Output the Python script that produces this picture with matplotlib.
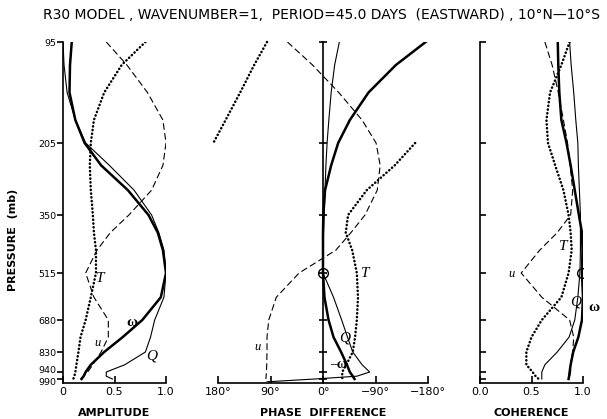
import numpy as np
import matplotlib
matplotlib.use("Agg")
import matplotlib.pyplot as plt
from matplotlib.transforms import ScaledTranslation

# Pressure levels (mb) where each profile is given
levels = [95, 120, 150, 180, 205, 250, 300, 350, 400, 450, 515,
          600, 680, 760, 830, 900, 940, 970, 990]
tick_levels = [95, 205, 350, 515, 680, 830, 940, 990]

# Vertical spacing of the model levels (distance below the top level)
scale_p = [95, 205, 350, 515, 680, 830, 940, 990, 1000]
scale_z = [0, 101, 173, 231, 278, 310, 330, 337, 341]

# Amplitude (normalised)
amp_omega = [0.085, 0.068, 0.063, 0.12, 0.21, 0.37, 0.63, 0.83, 0.92, 0.97, 1.0,
             0.95, 0.77, 0.58, 0.40, 0.27, 0.22, 0.20, 0.18]
amp_q = [0.0, 0.01, 0.04, 0.12, 0.22, 0.45, 0.69, 0.86, 0.93, 0.98, 1.0,
         0.98, 0.89, 0.85, 0.80, 0.60, 0.42, 0.42, 0.48]
amp_t = [0.80, 0.57, 0.40, 0.30, 0.27, 0.26, 0.27, 0.29, 0.30, 0.32, 0.32,
         0.27, 0.22, 0.17, 0.15, 0.13, 0.12, 0.11, 0.10]
amp_u = [0.42, 0.62, 0.82, 0.97, 1.0, 0.97, 0.86, 0.64, 0.46, 0.33, 0.22,
         0.30, 0.44, 0.44, 0.37, 0.29, 0.24, 0.20, 0.17]

# Phase difference (degrees)
ph_omega = [-176, -125, -78, -46, -26, -14, -3.5, -0.5, 0, 0, 0,
            -2.5, -9.5, -18, -31, -41, -46, -51, -54]
q_phase_levels = levels + [997]
ph_q = [-28, -20, -14, -10, -7, -5, -3.4, -2, -1, 0, 0,
        -18, -32, -42, -51, -67, -80, -58, 14, 96]
ph_u = [61, 18, -27, -67, -91, -98, -93, -72, -48, -22, 41,
        80, 93, 96, 96, 96.5, 97, 97.5, 98]
t_upper_levels = [95, 120, 150, 180, 205]
ph_t_upper = [96, 118, 142, 167, 188]
t_lower_levels = levels[4:]
ph_t_lower = [-158, -123, -75, -43, -39, -50, -58, -60, -58, -55, -51, -40, -33, -33, -33]

# Coherence
coh_omega = [0.755, 0.76, 0.77, 0.79, 0.84, 0.88, 0.92, 0.96, 0.99, 0.995, 0.99,
             1.0, 0.99, 0.955, 0.905, 0.88, 0.87, 0.865, 0.86]
coh_q = [0.87, 0.885, 0.91, 0.93, 0.95, 0.955, 0.965, 0.975, 0.975, 0.975, 0.97,
         0.95, 0.92, 0.865, 0.75, 0.63, 0.60, 0.60, 0.60]
coh_t = [0.87, 0.79, 0.68, 0.645, 0.66, 0.73, 0.81, 0.86, 0.88, 0.89, 0.86,
         0.79, 0.60, 0.50, 0.45, 0.45, 0.51, 0.54, 0.57]
coh_u = [0.63, 0.70, 0.76, 0.81, 0.85, 0.875, 0.90, 0.88, 0.75, 0.58, 0.40,
         0.60, 0.87, 0.91, 0.90, 0.88, 0.88, 0.87, 0.87]

ref_level = 515
ref_coherence = 0.99

heavy = dict(color="k", lw=1.8)
thin = dict(color="k", lw=0.8)
dashed = dict(color="k", lw=0.8, ls=(0, (6, 3)))
dotted = dict(color="k", lw=1.8, ls=(0, (0.1, 1.4)), dash_capstyle="round")

narrow = ["Liberation Sans Narrow", "DejaVu Sans"]
serif = ["Liberation Serif", "DejaVu Serif"]


def p_to_z(p):
    return np.interp(p, scale_p, scale_z)


def z_to_p(z):
    return np.interp(z, scale_z, scale_p)


fig = plt.figure(figsize=(6.07, 4.19), dpi=100)
bottom, height = 36 / 419, 341 / 419
ax1 = fig.add_axes([63 / 607, bottom, 103 / 607, height])
ax2 = fig.add_axes([218 / 607, bottom, 210 / 607, height])
ax3 = fig.add_axes([480 / 607, bottom, 103 / 607, height])

for ax in (ax1, ax2, ax3):
    ax.set_yscale("function", functions=(p_to_z, z_to_p))
    ax.set_ylim(1000, 95)
    ax.set_yticks(tick_levels)
    ax.yaxis.set_minor_locator(matplotlib.ticker.NullLocator())
    ax.spines["top"].set_visible(False)
    ax.spines["right"].set_visible(False)
    for s in ax.spines.values():
        s.set_linewidth(1.2)
    ax.tick_params(axis="x", direction="in", length=5, width=1.2, labelsize=8, pad=3)

# Amplitude
ax1.plot(amp_omega, levels, **heavy)
ax1.plot(amp_q, levels, **thin)
ax1.plot(amp_t, levels, **dotted)
ax1.plot(amp_u, levels, **dashed)
ax1.set_xlim(0, 1.0)
ax1.set_xticks([0, 0.5, 1.0])
ax1.set_xticklabels(["0", "0.5", "1.0"])
ax1.set_yticklabels([str(p) for p in tick_levels])
ax1.tick_params(axis="y", direction="out", length=4, width=1.2, labelsize=6.8, pad=1)
# the two lowest levels sit close together: nudge their labels apart
ylabels = ax1.get_yticklabels()
ylabels[-2].set_transform(ylabels[-2].get_transform()
                          + ScaledTranslation(0, 1.5 / 72, fig.dpi_scale_trans))
ylabels[-1].set_transform(ylabels[-1].get_transform()
                          + ScaledTranslation(0, -1.5 / 72, fig.dpi_scale_trans))
ax1.set_ylabel("PRESSURE  (mb)", fontsize=8, fontweight="bold", family=narrow)
ax1.yaxis.set_label_coords(-0.44, 0.42)
ax1.set_xlabel("AMPLITUDE", fontsize=8, fontweight="bold", family=narrow, labelpad=8)
ax1.text(0.32, 545, "T", fontsize=11, style="italic", family=serif)
ax1.text(0.30, 800, "u", fontsize=9, style="italic", family=serif)
ax1.text(0.62, 710, "ω", fontsize=11, fontweight="bold", family=serif)
ax1.text(0.81, 870, "Q", fontsize=11, style="italic", family=serif)

# Phase difference
ax2.plot(ph_omega, levels, **heavy)
ax2.plot(ph_q, q_phase_levels, **thin)
ax2.plot(ph_t_upper, t_upper_levels, clip_on=False, **dotted)
ax2.plot(ph_t_lower, t_lower_levels, **dotted)
ax2.plot(ph_u, levels, **dashed)
ax2.plot([0], [ref_level], marker="o", ms=7, mfc="none", mec="k", mew=1.0)
ax2.set_xlim(180, -180)
ax2.set_xticks([180, 90, 0, -90, -180])
ax2.set_xticklabels(["180°", "90°", "0°", "−90°", "−180°"])
ax2.spines["left"].set_position(("data", 0))
ax2.set_yticklabels([])
ax2.tick_params(axis="y", direction="inout", length=6, width=1.2)
ax2.set_xlabel("PHASE  DIFFERENCE", fontsize=8, fontweight="bold", family=narrow, labelpad=8)
ax2.text(-65, 530, "T", fontsize=11, style="italic", family=serif)
ax2.text(-28, 780, "Q", fontsize=11, style="italic", family=serif)
ax2.text(118, 820, "u", fontsize=9, style="italic", family=serif)
ax2.text(-12, 920, "–ω", fontsize=10, fontweight="bold", family=serif)

# Coherence
ax3.plot(coh_omega, levels, **heavy)
ax3.plot(coh_q, levels, **thin)
ax3.plot(coh_t, levels, **dotted)
ax3.plot(coh_u, levels, **dashed)
ax3.plot([ref_coherence], [ref_level], marker="o", ms=7, mfc="none", mec="k", mew=1.0)
ax3.set_xlim(0, 1.0)
ax3.set_xticks([0, 0.5, 1.0])
ax3.set_xticklabels(["0.0", "0.5", "1.0"])
ax3.set_yticklabels([])
ax3.tick_params(axis="y", direction="in", length=4, width=1.2)
ax3.set_xlabel("COHERENCE", fontsize=8, fontweight="bold", family=narrow, labelpad=8)
ax3.text(0.77, 450, "T", fontsize=11, style="italic", family=serif)
ax3.text(0.28, 530, "u", fontsize=9, style="italic", family=serif)
ax3.text(0.88, 630, "Q", fontsize=11, style="italic", family=serif)
ax3.text(1.05, 650, "ω", fontsize=11, fontweight="bold", family=serif)

fig.text(0.53, 0.965, "R30 MODEL , WAVENUMBER=1,  PERIOD=45.0 DAYS  (EASTWARD) , 10°N—10°S",
         ha="center", va="center", fontsize=10)

fig.savefig("out.png", dpi=100)
